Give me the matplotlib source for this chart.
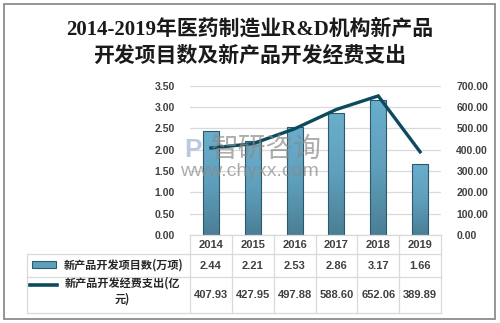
import matplotlib
matplotlib.use("Agg")
import matplotlib.pyplot as plt
import numpy as np
from matplotlib.colors import LinearSegmentedColormap
from matplotlib.patches import Rectangle
from matplotlib.lines import Line2D

years = ["2014", "2015", "2016", "2017", "2018", "2019"]
projects = [2.44, 2.21, 2.53, 2.86, 3.17, 1.66]          # 万项
spending = [407.93, 427.95, 497.88, 588.60, 652.06, 389.89]  # 亿元
left_ticks = [0.0, 0.5, 1.0, 1.5, 2.0, 2.5, 3.0, 3.5]
right_ticks = [0, 100, 200, 300, 400, 500, 600, 700]
bar_label = "新产品开发项目数(万项)"
line_label = "新产品开发经费支出(亿\n元)"
title_lines = ["2014-2019年医药制造业R&D机构新产品", "开发项目数及新产品开发经费支出"]

W, H = 500, 323
fig = plt.figure(figsize=(W / 100, H / 100), dpi=100)
fig.patch.set_facecolor("white")

def fx(px):
    return px / W

def fy(py):
    return 1 - py / H

CJK = ["Noto Sans CJK SC", "DejaVu Sans"]
NUM = ["Liberation Sans", "DejaVu Sans"]
grid_c = "#d9d9d9"
text_c = "#404040"

# outer frame
fig.add_artist(Rectangle((fx(4), fy(319)), fx(491), (315) / H, transform=fig.transFigure,
                         fill=False, edgecolor="#8c8c8c", linewidth=1.3))

# title, two lines
for line, yc in zip(title_lines, (29, 57)):
    fig.text(0.5, fy(yc), line, ha="center", va="center", fontsize=15,
             family=["Liberation Serif", "Noto Sans CJK SC"], fontweight="bold", color="#1a1a1a")

x0, x1, ytop, ybot = 190, 441, 85.7, 235
ax = fig.add_axes([fx(x0), fy(ybot), fx(x1 - x0), (ybot - ytop) / H])
ax2 = ax.twinx()

n = len(years)
xs = np.arange(n)
ax.set_xlim(-0.5, n - 0.5)
ax.set_ylim(0, 3.5)
ax2.set_ylim(0, 700)
ax.set_yticks(left_ticks)
ax.set_yticklabels([f"{v:.2f}" for v in left_ticks])
ax2.set_yticks(right_ticks)
ax2.set_yticklabels([f"{v:.2f}" for v in right_ticks])
for a in (ax, ax2):
    for s in a.spines.values():
        s.set_visible(False)
    a.tick_params(axis="both", length=0)
    a.set_xticks([])
for lab in ax.get_yticklabels() + ax2.get_yticklabels():
    lab.set_family(NUM)
    lab.set_fontsize(7.5)
    lab.set_fontweight("bold")
    lab.set_color(text_c)
ax.tick_params(axis="y", pad=11)
ax2.tick_params(axis="y", pad=11)
ax.grid(axis="y", color=grid_c, linewidth=0.9)
ax.set_axisbelow(True)

# bars with a vertical gradient fill
cmap = LinearSegmentedColormap.from_list("barfill", ["#4b7f95", "#5f9fbc", "#6aaecb"])
bars = ax.bar(xs, projects, width=0.38, facecolor="none", edgecolor="#2c5a6c", linewidth=0.8, zorder=3)
grad = np.linspace(0, 1, 100).reshape(-1, 1)
for b in bars:
    bx, by = b.get_x(), b.get_y()
    bw, bh = b.get_width(), b.get_height()
    im = ax.imshow(grad, cmap=cmap, origin="lower", aspect="auto",
                   extent=[bx, bx + bw, by, by + bh], zorder=2)
    im.set_clip_path(b)
ax.set_xlim(-0.5, n - 0.5)
ax.set_ylim(0, 3.5)

ax2.plot(xs, spending, color="#0d4a5d", linewidth=2.4, solid_joinstyle="miter", zorder=4)

# watermark
fig.text(fx(266), fy(149), "智研咨询", ha="center", va="center", fontsize=20,
         family=CJK, color="#8a8a8a", alpha=0.7)
fig.text(fx(249), fy(172), "www.chyxx.com", ha="center", va="center", fontsize=14,
         family=NUM, color="#8a8a8a", alpha=0.7)
fig.text(fx(193), fy(150), "P", ha="center", va="center", fontsize=19,
         family=NUM, color="#9fb3d4", alpha=0.7, fontweight="bold")

# data table below the plot
col_w = (x1 - x0) / n
r0, r1, r2, r3 = 235, 254, 276.7, 313.3
lk = dict(transform=fig.transFigure, color=grid_c, linewidth=0.9)
for i in range(n + 1):
    xv = x0 + i * col_w
    fig.add_artist(Line2D([fx(xv), fx(xv)], [fy(r0), fy(r3)], **lk))
for yv, xl in [(r0, x0), (r1, 27), (r2, 27), (r3, 27)]:
    fig.add_artist(Line2D([fx(xl), fx(x1)], [fy(yv), fy(yv)], **lk))
fig.add_artist(Line2D([fx(27), fx(27)], [fy(r1), fy(r3)], **lk))

for i, yr in enumerate(years):
    cx = x0 + (i + 0.5) * col_w
    fig.text(fx(cx), fy((r0 + r1) / 2 + 0.5), yr, ha="center", va="center",
             fontsize=8, family=NUM, color=text_c, fontweight="bold")
    fig.text(fx(cx), fy((r1 + r2) / 2 + 0.5), f"{projects[i]:.2f}", ha="center", va="center",
             fontsize=8, family=NUM, color=text_c, fontweight="bold")
    fig.text(fx(cx), fy((r2 + r3) / 2 + 0.5), f"{spending[i]:.2f}", ha="center", va="center",
             fontsize=8, family=NUM, color=text_c, fontweight="bold")

# legend keys inside the table
fig.add_artist(Rectangle((fx(31.5), fy(268)), fx(24.5), 6.7 / H, transform=fig.transFigure,
                         facecolor="#5f9fbc", edgecolor="#2c5a6c", linewidth=0.8))
fig.add_artist(Line2D([fx(30), fx(57)], [fy(284.5), fy(284.5)], transform=fig.transFigure,
                      color="#0d4a5d", linewidth=2.6))
fig.text(fx(124), fy(265), bar_label, ha="center", va="center", fontsize=8,
         family=CJK, color="#262626", fontweight="bold")
fig.text(fx(122), fy(291), line_label, ha="center", va="center", fontsize=8,
         family=CJK, color="#262626", fontweight="bold", linespacing=1.3)

fig.savefig("out.png", dpi=100, facecolor="white")
